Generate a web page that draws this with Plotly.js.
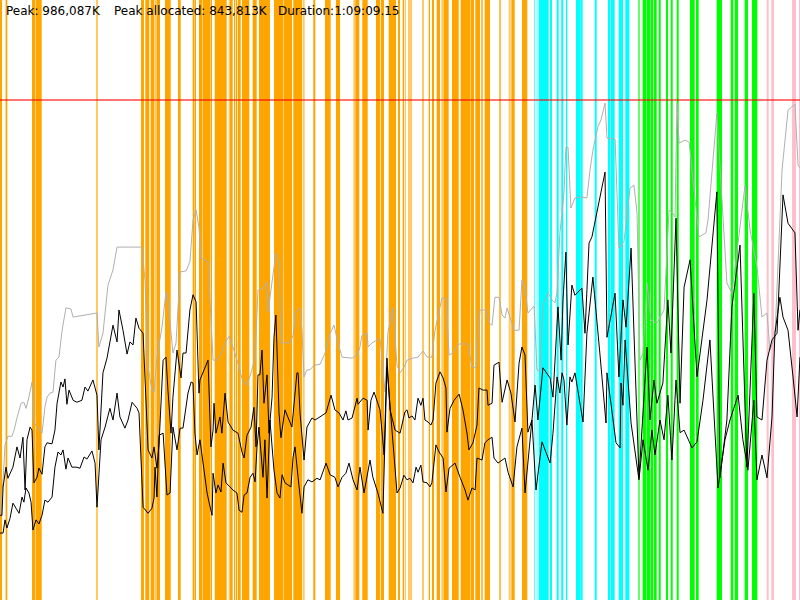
<!DOCTYPE html>
<html>
<head>
<meta charset="utf-8">
<script src="https://cdn.plot.ly/plotly-3.0.1.min.js"></script>
<style>html,body{margin:0;padding:0;background:#fff;}#chart{width:800px;height:600px;}</style>
</head>
<body>
<div id="chart"></div>
<script>
// ---- summary values ----
const peakK = 986087;
const peakAllocatedK = 843813;
const durationText = "1:09:09.15";
const durationSec = 4149.15;

// ---- total heap (MB) over time (s) ----
const totalTime = [0,16,26,41,62,73,88,109,124,135,150,166,176,192,218,233,244,259,275,290,306,322,342,368,379,415,451,503,513,534,560,586,607,736,752,768,788,799,814,840,861,871,897,913,934,965,985,1001,1017,1032,1042,1079,1105,1125,1151,1167,1188,1208,1234,1260,1281,1302,1323,1338,1364,1385,1390,1411,1431,1447,1457,1504,1520,1535,1556,1566,1577,1592,1608,1629,1660,1686,1712,1732,1753,1774,1826,1852,1867,1877,1904,1909,1929,1971,1997,2012,2038,2059,2075,2095,2111,2142,2168,2194,2215,2240,2256,2292,2313,2329,2349,2381,2427,2448,2469,2489,2521,2536,2552,2567,2588,2604,2619,2630,2645,2666,2692,2707,2723,2738,2770,2785,2801,2816,2842,2863,2878,2889,2904,2925,2935,2946,2961,2982,3008,3044,3060,3075,3101,3117,3138,3148,3190,3210,3236,3267,3288,3304,3319,3335,3356,3376,3407,3444,3470,3490,3501,3511,3522,3553,3574,3605,3625,3661,3672,3718,3770,3796,3828,3864,3890,3926,3952,3978,3993,4019,4056,4087,4123,4139,4149];
const totalMB = [167,237,306,323,323,335,359,388,390,378,400,430,351,341,329,380,400,408,410,473,479,532,576,574,558,560,562,566,499,526,621,651,696,696,631,459,414,410,479,538,607,592,487,507,647,649,667,749,769,735,674,667,473,473,489,507,520,499,467,430,424,448,479,611,615,627,568,625,684,667,507,507,522,568,576,532,440,454,454,463,465,487,526,542,507,479,477,483,499,522,526,499,507,516,410,528,576,463,448,459,473,477,479,491,479,479,532,595,595,483,487,505,505,459,459,572,572,546,542,597,597,562,556,576,556,532,532,631,615,566,580,454,450,582,605,592,586,605,724,803,893,893,773,793,795,793,848,887,933,947,980,911,909,694,706,812,818,763,473,487,625,552,546,572,769,763,755,980,901,907,903,789,716,724,749,960,625,605,710,818,730,657,558,566,493,518,848,966,978,858,852];

// ---- allocated (MB) ----
const allocTime = [0,10,16,31,41,67,88,104,119,130,140,156,166,176,192,202,218,233,244,270,285,296,316,327,337,347,358,379,399,425,441,456,482,503,513,534,555,586,607,617,638,659,674,690,705,721,742,757,768,788,799,814,825,846,861,871,887,897,918,939,949,965,985,1001,1017,1032,1037,1079,1094,1105,1110,1120,1141,1151,1167,1183,1208,1234,1255,1266,1281,1302,1317,1328,1338,1348,1359,1369,1385,1395,1411,1421,1431,1447,1457,1478,1514,1540,1546,1556,1577,1592,1618,1634,1660,1691,1717,1737,1758,1779,1794,1805,1826,1852,1857,1883,1904,1909,1924,1940,1971,1992,2007,2023,2049,2075,2100,2111,2121,2137,2152,2168,2183,2194,2204,2220,2235,2246,2261,2282,2298,2313,2318,2334,2355,2381,2401,2422,2432,2453,2474,2484,2505,2526,2531,2552,2562,2588,2604,2630,2650,2671,2692,2707,2723,2738,2759,2775,2790,2816,2853,2868,2894,2910,2920,2935,2946,2966,2982,3018,3034,3055,3070,3096,3117,3138,3148,3190,3210,3231,3247,3273,3314,3356,3371,3392,3407,3438,3464,3480,3506,3511,3527,3548,3579,3615,3667,3718,3734,3770,3796,3838,3874,3910,3926,3952,3978,4004,4030,4061,4087,4123,4139,4149];
const allocMB = [167,167,223,262,240,262,302,280,321,217,316,341,335,231,242,260,248,302,310,308,335,388,430,420,436,386,414,394,390,394,420,412,434,404,296,448,477,542,509,572,532,485,509,503,556,536,526,394,296,280,302,260,310,473,479,414,329,400,493,438,487,487,572,602,588,408,434,473,302,335,388,329,361,329,408,351,335,329,292,280,325,341,380,302,444,444,493,388,444,329,400,518,562,369,320,375,341,448,448,369,276,341,359,355,361,369,404,375,369,355,373,355,359,398,386,398,394,335,394,410,375,286,477,375,335,329,371,375,359,363,355,398,384,398,355,351,345,355,428,450,438,418,331,378,394,406,375,329,296,310,345,418,414,414,384,388,463,469,390,434,408,351,467,499,483,331,355,424,355,458,438,400,578,473,592,686,503,621,601,615,526,704,716,763,799,843.8,518,605,440,592,538,694,241,499,355,434,388,428,592,487,753,651,388,617,671,440,592,805,241,355,578,700,262,605,361,355,473,513,526,799,743,724,532,572];

// ---- in use after GC (MB) ----
const usedTime = [0,16,26,36,52,67,83,99,114,124,135,150,161,171,187,202,218,233,249,270,285,301,316,327,342,353,373,394,415,436,451,477,493,503,524,545,570,586,607,622,648,664,685,711,721,742,768,788,799,804,814,825,846,866,882,897,918,934,949,975,991,1001,1011,1022,1037,1053,1074,1084,1100,1105,1120,1131,1146,1157,1172,1193,1208,1229,1240,1255,1266,1281,1297,1312,1323,1333,1343,1364,1374,1385,1400,1421,1437,1452,1463,1478,1509,1520,1530,1546,1566,1577,1597,1618,1644,1660,1691,1712,1737,1753,1774,1794,1810,1831,1852,1867,1888,1919,1934,1960,1986,2007,2023,2049,2059,2075,2095,2111,2126,2142,2158,2168,2183,2194,2215,2230,2240,2261,2277,2298,2313,2329,2360,2386,2412,2427,2448,2464,2474,2500,2515,2531,2552,2562,2583,2619,2635,2661,2681,2707,2723,2759,2780,2811,2853,2868,2889,2904,2915,2925,2940,2956,2966,2982,3024,3044,3075,3112,3143,3148,3195,3216,3221,3231,3242,3273,3314,3335,3361,3381,3397,3423,3444,3464,3485,3506,3527,3548,3589,3615,3646,3682,3724,3760,3786,3828,3853,3879,3910,3926,3952,3978,4004,4019,4045,4061,4087,4113,4134,4149];
const usedMB = [132,132,158,142,161,191,181,171,203,193,221,211,193,138,158,150,167,197,193,203,262,292,286,296,258,280,262,262,260,282,278,294,270,183,316,341,378,355,408,361,339,355,390,378,369,183,171,181,201,262,203,325,329,207,211,341,296,339,339,408,430,428,329,286,316,270,211,193,167,250,211,227,213,270,231,223,217,211,177,173,207,211,242,250,233,302,341,242,316,201,355,256,211,201,247,231,223,282,302,242,171,223,237,233,240,237,270,247,242,223,242,250,270,237,217,262,211,276,242,211,171,459,380,242,211,221,246,237,240,231,262,252,266,233,231,223,231,306,292,280,213,260,270,242,217,197,221,217,280,276,310,316,321,280,270,280,252,223,302,339,211,355,217,312,270,329,440,408,448,434,345,440,430,448,351,526,637,483,349,448,310,300,428,384,513,349,237,316,256,335,286,355,316,404,276,434,330,335,300,312,394,513,221,316,355,404,316,256,394,237,286,241,361,526,597,558,532,440,361,479];

// ---- GC / phase events: start and end times (s) ----
const orangeStart = [0,31.1,166,184.1,731.3,753.6,781.6,812.7,855.8,923.2,999.4,1008.8,1032.1,1052.8,1091.7,1113.5,1192.9,1213.6,1224,1234.4,1255.1,1310.6,1343.3,1421.1,1470.3,1521.2,1624.9,1685.6,1742.6,1842.7,1879,1950.1,1974.5,2015.9,2064.2,2088.6,2223.4,2240.5,2264.9,2302.8,2344.2,2389.4,2440.2,2465.1,2496.2,2513.8,2589.6,2651.8,2707.3];
const orangeEnd   = [10.4,37.9,181.5,216.3,746.8,774.3,798.7,829.8,885.3,937.2,1007.7,1016.5,1050.2,1089.1,1099.5,1175.8,1206.9,1220.4,1230.7,1248.4,1293,1331.3,1400.3,1467.7,1514.4,1566.3,1635.3,1715.1,1763.4,1863.5,1907,1970.8,1991.6,2053.8,2074.6,2095.3,2230.2,2250.9,2282,2327.1,2379,2437.6,2458.4,2489.5,2503.5,2541.3,2596.8,2669.4,2734.8];
const orangeShortStart = [25.9,497.9,800.3,1186.1,1569.9,1832.4,2098.9,2116,2188.7,2288.8,2638.3];
const orangeShortEnd   = [29.6,508.3,812.7,1192.9,1580.3,1842.7,2105.7,2136.8,2199,2302.8,2648.7];
const cyanStart = [2783.5,2793.9,2852.5,2887.2,2911.1,2935.5,2987.4,3009.7,3084.4,3153.3,3166.3,3208.8,3243.1];
const cyanEnd   = [2786.7,2845.8,2862.9,2897.6,2921.5,2942.3,3008.1,3022.1,3094.7,3163.7,3188,3231.1,3263.8];
const cyanShortStart = [2769.5];
const cyanShortEnd   = [2776.2];
const greenStart = [3333.3,3353,3373.7,3391.9,3416.3,3454.1,3478.5,3509.6,3578.6,3609.7,3717.1,3789.7,3810.4,3862.3,3900.2];
const greenEnd   = [3350.4,3371.2,3388.3,3405.9,3426.7,3464.5,3488.9,3520,3603,3623.7,3744.6,3803.2,3827.6,3879.4,3927.7];
const greenShortStart = [3308.9];
const greenShortEnd   = [3319.3];
const pinkStart = [3976.4,4000.2,4107.6,4143.9];
const pinkEnd   = [3986.8,4014.3,4128.4,4149.2];

const fmtK = v => v.toLocaleString('en-US') + 'K';
const peakMB = peakK / 1000;

const shapes = [];
function addBands(starts, ends, color, opacity) {
  starts.forEach((s, i) => {
    shapes.push({type:'rect', xref:'x', yref:'paper', x0:s, x1:ends[i], y0:0, y1:1,
      fillcolor:color, opacity:opacity, line:{width:0}, layer:'below'});
  });
}
addBands(orangeStart, orangeEnd, '#FFA500', 1);
addBands(orangeShortStart, orangeShortEnd, '#FFA500', 0.6);
addBands(cyanStart, cyanEnd, '#00FFFF', 1);
addBands(cyanShortStart, cyanShortEnd, '#00FFFF', 0.6);
addBands(greenStart, greenEnd, '#00FF00', 1);
addBands(greenShortStart, greenShortEnd, '#00FF00', 0.6);
addBands(pinkStart, pinkEnd, '#FFC0CB', 1);
shapes.push({type:'line', xref:'paper', yref:'y', x0:0, x1:1, y0:peakMB, y1:peakMB,
  line:{color:'rgba(255,0,0,0.55)', width:2}, layer:'above'});

const traces = [
  {x: totalTime, y: totalMB, mode:'lines', line:{color:'#b0b0b0', width:1}, hoverinfo:'skip'},
  {x: usedTime, y: usedMB, mode:'lines', line:{color:'#000', width:1}, hoverinfo:'skip'},
  {x: allocTime, y: allocMB, mode:'lines', line:{color:'#000', width:1}, hoverinfo:'skip'}
];

const annFont = {family:'DejaVu Sans, Verdana, sans-serif', size:12, color:'#000'};
const layout = {
  width:800, height:600,
  margin:{l:0, r:0, t:0, b:0, pad:0},
  paper_bgcolor:'#fff', plot_bgcolor:'#fff',
  showlegend:false,
  xaxis:{range:[0, durationSec], visible:false, fixedrange:true},
  yaxis:{range:[0, peakMB * 1.2], visible:false, fixedrange:true},
  shapes: shapes,
  annotations:[
    {xref:'paper', yref:'paper', x:4/800, y:1, xanchor:'left', yanchor:'top', yshift:-2, showarrow:false, text:'Peak: ' + fmtK(peakK), font:annFont},
    {xref:'paper', yref:'paper', x:112/800, y:1, xanchor:'left', yanchor:'top', yshift:-2, showarrow:false, text:'Peak allocated: ' + fmtK(peakAllocatedK), font:annFont},
    {xref:'paper', yref:'paper', x:276/800, y:1, xanchor:'left', yanchor:'top', yshift:-2, showarrow:false, text:'Duration:' + durationText, font:annFont}
  ]
};
Plotly.newPlot('chart', traces, layout, {displayModeBar:false, staticPlot:true});
</script>
</body>
</html>
